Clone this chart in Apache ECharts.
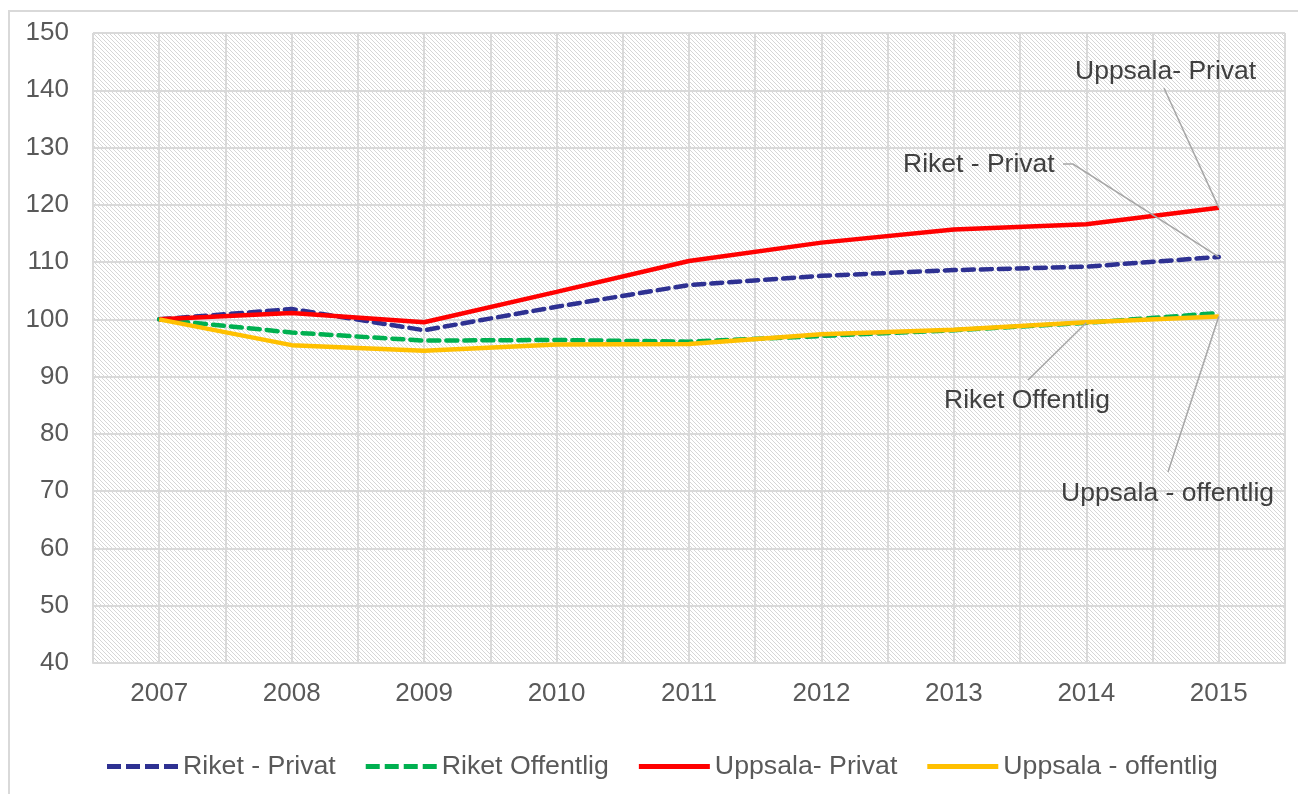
<!DOCTYPE html>
<html>
<head>
<meta charset="utf-8">
<script src="https://cdn.jsdelivr.net/npm/echarts@6/dist/echarts.min.js"></script>
<style>
  html, body { margin: 0; padding: 0; background: #fff; }
  #main { width: 1298px; height: 794px; position: relative; }
  .frame { position: absolute; left: 8px; top: 10px; right: -4px; bottom: -4px; border: 2px solid #d9d9d9; pointer-events: none; }
</style>
</head>
<body>
<div id="main"></div>
<div class="frame"></div>
<script>
// år och indexvärden (2007 = 100)
var years = [2007, 2008, 2009, 2010, 2011, 2012, 2013, 2014, 2015]
var riketPrivat = [100, 101.8, 98.1, 102.2, 106.0, 107.6, 108.6, 109.2, 110.9]
var riketOffentlig = [100, 97.7, 96.3, 96.4, 96.1, 97.1, 98.1, 99.4, 101.1]
var uppsalaPrivat = [100, 101.1, 99.5, 104.8, 110.2, 113.4, 115.7, 116.6, 119.5]
var uppsalaOffentlig = [100, 95.5, 94.5, 95.6, 95.7, 97.4, 98.2, 99.5, 100.5]
var seriesNames = ['Riket - Privat', 'Riket Offentlig', 'Uppsala- Privat', 'Uppsala - offentlig']

// etiketter: vilken punkt de pekar på, textens plats och linjens brytpunkter
var callouts = [
  { series: 0, index: 8, x: 903, y: 165, line: [[1063, 164], [1073, 164]] },
  { series: 1, index: 7, x: 944, y: 401, line: [[1028, 380]] },
  { series: 2, index: 8, x: 1075, y: 72, line: [[1164, 88]] },
  { series: 3, index: 8, x: 1061, y: 494, line: [[1168, 472]] }
]

// snedstreckat mönster för plotytan
var hatch = document.createElement('canvas')
hatch.width = 4
hatch.height = 4
var ctx = hatch.getContext('2d')
ctx.fillStyle = '#ffffff'
ctx.fillRect(0, 0, 4, 4)
ctx.fillStyle = '#d6d6d6'
for (var i = 0; i < 4; i++) ctx.fillRect(i, i, 1, 1)

var colors = ['#2e3192', '#00b050', '#ff0000', '#ffc000']
var values = [riketPrivat, riketOffentlig, uppsalaPrivat, uppsalaOffentlig]
var dashed = [true, true, false, false]
var font = 'Liberation Sans, Arial, sans-serif'

// legendikoner: streckad resp. hel linje
var dashIcon = 'path://M0,0h14v5h-14z M19,0h14v5h-14z M38,0h14v5h-14z M57,0h14v5h-14z'
var solidIcon = 'path://M0,0h71v5h-71z'

var series = seriesNames.map(function (name, s) {
  return {
    name: name,
    type: 'line',
    data: years.map(function (y, i) { return [y, values[s][i]] }),
    symbol: 'none',
    z: s >= 2 ? 5 : 3,
    lineStyle: {
      color: colors[s],
      width: 4.5,
      type: dashed[s] ? [11, 7] : 'solid',
      cap: dashed[s] ? 'round' : 'butt'
    },
    itemStyle: { color: colors[s] }
  }
})

var chart = echarts.init(document.getElementById('main'))
chart.setOption({
  animation: false,
  textStyle: { fontFamily: font },
  grid: {
    left: 93,
    right: 13,
    top: 33,
    bottom: 131,
    show: true,
    borderWidth: 0,
    backgroundColor: { image: hatch, repeat: 'repeat' }
  },
  legend: {
    left: 102,
    top: 748,
    itemWidth: 71,
    itemHeight: 5,
    itemGap: 30,
    textStyle: { color: '#595959', fontSize: 26.7, fontFamily: font },
    data: seriesNames.map(function (n, s) {
      return { name: n, icon: dashed[s] ? dashIcon : solidIcon, itemStyle: { color: colors[s] } }
    })
  },
  xAxis: {
    type: 'value',
    min: 2006.5,
    max: 2015.5,
    interval: 0.5,
    axisLine: { show: true, lineStyle: { color: '#d9d9d9', width: 2 } },
    axisTick: { show: false },
    axisLabel: {
      color: '#595959',
      fontSize: 26,
      margin: 18,
      showMinLabel: false,
      showMaxLabel: false,
      formatter: function (v) { return v % 1 === 0 ? String(v) : '' }
    },
    splitLine: { show: true, lineStyle: { color: '#d9d9d9', width: 2 } }
  },
  yAxis: {
    type: 'value',
    min: 40,
    max: 150,
    interval: 10,
    axisLine: { show: false },
    axisTick: { show: false },
    axisLabel: { color: '#595959', fontSize: 26, margin: 24 },
    splitLine: { show: true, lineStyle: { color: '#d9d9d9', width: 2 } }
  },
  series: series
})

// etiketter med hänvisningslinjer, förankrade i datapunkterna
var graphics = []
callouts.forEach(function (c) {
  var anchor = chart.convertToPixel({ gridIndex: 0 }, [years[c.index], values[c.series][c.index]])
  graphics.push({
    type: 'polyline',
    z: 10,
    shape: { points: c.line.concat([anchor]) },
    style: { stroke: '#a6a6a6', lineWidth: 1.5, fill: null }
  })
  graphics.push({
    type: 'text',
    z: 10,
    x: c.x,
    y: c.y,
    style: {
      text: seriesNames[c.series],
      fill: '#404040',
      font: '26.5px ' + font,
      verticalAlign: 'middle'
    }
  })
})
chart.setOption({ graphic: graphics })
</script>
</body>
</html>
